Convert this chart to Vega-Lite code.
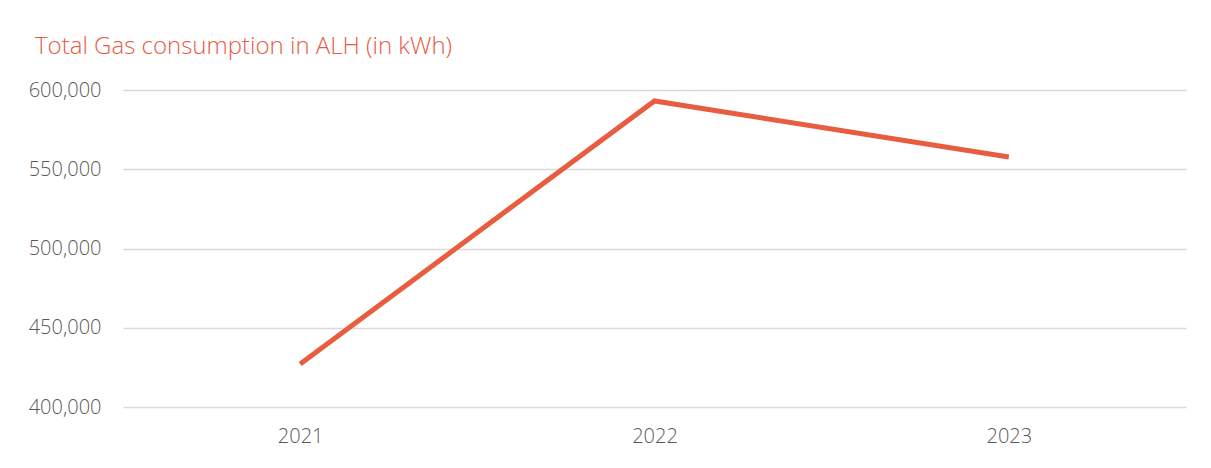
{
  "$schema": "https://vega.github.io/schema/vega-lite/v6.json",
  "width": 1063,
  "height": 317,
  "autosize": {"type": "none"},
  "padding": {"left": 123, "top": 90, "right": 25, "bottom": 61},
  "background": "white",
  "title": {
    "text": "Total Gas consumption in ALH (in kWh)",
    "anchor": "start",
    "frame": "group",
    "dx": -88,
    "offset": 21,
    "font": "Open Sans",
    "fontSize": 24,
    "fontWeight": 300,
    "color": "#E85A45"
  },
  "data": {
    "values": [
      {"year": "2021", "kwh": 427100},
      {"year": "2022", "kwh": 593100},
      {"year": "2023", "kwh": 557700}
    ]
  },
  "mark": {"type": "line", "color": "#E85C40", "strokeWidth": 5, "strokeCap": "butt", "strokeJoin": "miter"},
  "encoding": {
    "x": {
      "field": "year",
      "type": "ordinal",
      "scale": {"paddingInner": 0, "paddingOuter": 0.5},
      "axis": {
        "title": null,
        "labelAngle": 0,
        "domain": false,
        "ticks": false,
        "labelFont": "Open Sans",
        "labelFontSize": 20,
        "labelFontWeight": 300,
        "labelColor": "#595959",
        "labelPadding": 19
      }
    },
    "y": {
      "field": "kwh",
      "type": "quantitative",
      "scale": {"domain": [400000, 600000], "zero": false, "nice": false},
      "axis": {
        "title": null,
        "values": [400000, 450000, 500000, 550000, 600000],
        "format": ",.0f",
        "domain": false,
        "ticks": false,
        "gridColor": "#D9D9D9",
        "gridWidth": 1.5,
        "labelFont": "Open Sans",
        "labelFontSize": 20,
        "labelFontWeight": 300,
        "labelColor": "#595959",
        "labelPadding": 22
      }
    }
  },
  "config": {"view": {"stroke": null}}
}
